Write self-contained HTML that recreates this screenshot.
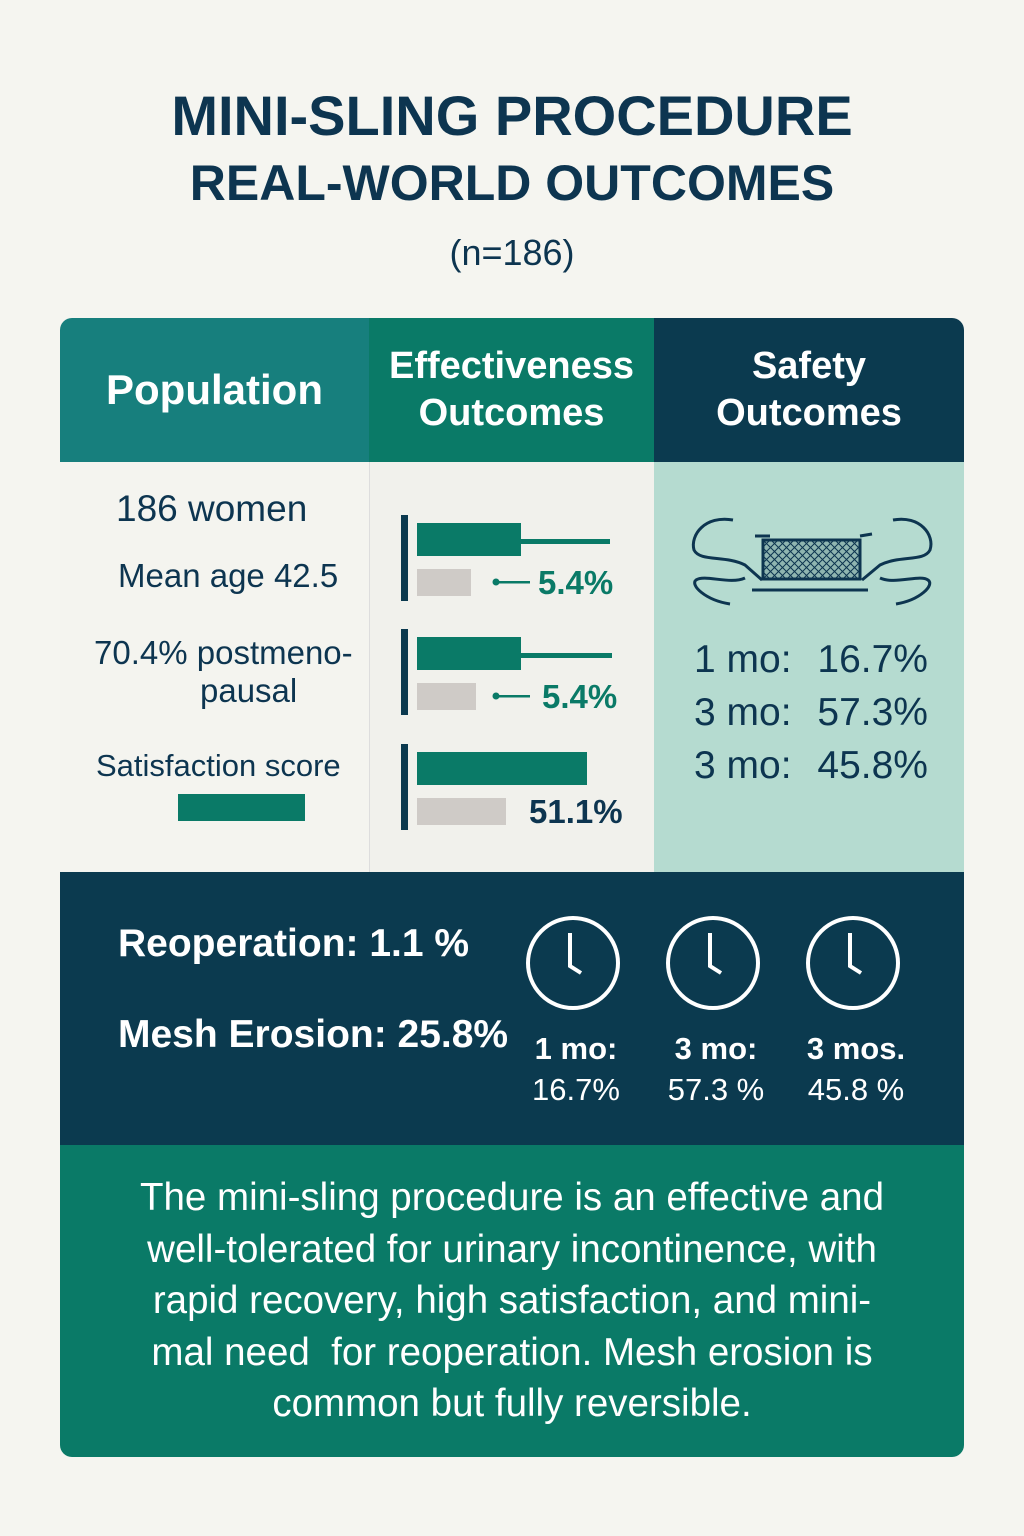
<!DOCTYPE html>
<html><head><meta charset="utf-8">
<style>
body{margin:0;width:1024px;height:1536px;background:#f5f5f0;font-family:"Liberation Sans",sans-serif;position:relative;overflow:hidden}
.a{position:absolute;white-space:nowrap}
</style></head><body>
<div class="a" style="left:0;width:1024px;top:86px;text-align:center;font-weight:bold;color:#0d3550;line-height:60px;font-size:56px">MINI-SLING PROCEDURE</div>
<div class="a" style="left:0;width:1024px;top:153px;text-align:center;font-weight:bold;color:#0d3550;line-height:60px;font-size:50px">REAL-WORLD OUTCOMES</div>
<div class="a" style="left:0;width:1024px;top:232px;text-align:center;font-size:36px;color:#0d3550">(n=186)</div>

<div class="a" style="left:60px;top:318px;width:904px;height:1139px;border-radius:12px;overflow:hidden">
 <div class="a" style="left:0;top:0;width:309px;height:144px;background:#177f7d;color:#fff;font-weight:bold;font-size:42px;display:flex;align-items:center;justify-content:center">Population</div>
 <div class="a" style="left:309px;top:0;width:285px;height:144px;background:#0a7a67;color:#fff;font-weight:bold;font-size:38px;display:flex;align-items:center;justify-content:center;text-align:center;line-height:47px">Effectiveness<br>Outcomes</div>
 <div class="a" style="left:594px;top:0;width:310px;height:144px;background:#0b3a4f;color:#fff;font-weight:bold;font-size:38px;display:flex;align-items:center;justify-content:center;text-align:center;line-height:47px">Safety<br>Outcomes</div>
 <div class="a" style="left:0;top:144px;width:309px;height:410px;background:#f4f4ef"></div>
 <div class="a" style="left:309px;top:144px;width:285px;height:410px;background:#f1f1ec;border-left:1px solid #ddd"></div>
 <div class="a" style="left:594px;top:144px;width:310px;height:410px;background:#b5dbd0"></div>
 <div class="a" style="left:0;top:554px;width:904px;height:273px;background:#0b3a4f"></div>
 <div class="a" style="left:0;top:827px;width:904px;height:312px;background:#0a7a67"></div>
</div>

<div class="a" style="left:116px;top:488px;font-size:37px;color:#0d3550">186 women</div>
<div class="a" style="left:118px;top:557px;font-size:33px;color:#0d3550">Mean age 42.5</div>
<div class="a" style="left:94px;top:634px;font-size:33px;color:#0d3550;line-height:38px">70.4% postmeno-<br><span style="padding-left:106px">pausal</span></div>
<div class="a" style="left:96px;top:748px;font-size:31px;color:#0d3550">Satisfaction score</div>
<div class="a" style="left:178px;top:794px;width:127px;height:27px;background:#0a7a67"></div>

<svg class="a" style="left:0;top:0" width="1024" height="1536" id="chart"></svg>

<div class="a" style="left:694px;top:638px;width:234px;font-size:39px;color:#0d3550;display:flex;justify-content:space-between"><span>1 mo:</span><span>16.7%</span></div>
<div class="a" style="left:694px;top:691px;width:234px;font-size:39px;color:#0d3550;display:flex;justify-content:space-between"><span>3 mo:</span><span>57.3%</span></div>
<div class="a" style="left:694px;top:744px;width:234px;font-size:39px;color:#0d3550;display:flex;justify-content:space-between"><span>3 mo:</span><span>45.8%</span></div>

<div class="a" style="left:118px;top:922px;font-size:39px;font-weight:bold;color:#fff">Reoperation: 1.1 %</div>
<div class="a" style="left:118px;top:1013px;font-size:39px;font-weight:bold;color:#fff">Mesh Erosion: 25.8%</div>

<div class="a" style="left:0;width:1024px;top:1172px;text-align:center;font-size:38.5px;color:#fff;line-height:51.5px">The mini-sling procedure is an effective and<br>well-tolerated for urinary incontinence, with<br>rapid recovery, high satisfaction, and mini-<br>mal need &nbsp;for reoperation. Mesh erosion is<br>common but fully reversible.</div>

<script>
const greenValues=[26,26,42.5];
const lineEnds=[48.25,48.75];
const grayValues=[13.5,14.75,22.25];
const valueLabels=["5.4%","5.4%","51.1%"];
const clockLabels=["1 mo:","3 mo:","3 mos."];
const clockValues=["16.7%","57.3 %","45.8 %"];
const NS="http://www.w3.org/2000/svg";
const svg=document.getElementById('chart');
const x=v=>417+v*4;
const rowTop=[523,637,752];
function mk(t,a){const e=document.createElementNS(NS,t);for(const k in a)e.setAttribute(k,a[k]);svg.appendChild(e);return e;}
greenValues.forEach((v,i)=>{
 const y=rowTop[i];
 const ax=mk('rect',{x:401,y:y-8,width:7,height:86,fill:'#0b3a4f'});
 
 
 const g=mk('rect',{x:417,y:y,width:x(v)-417,height:33,fill:'#0a7a67'});
 
 
 if(i<lineEnds.length){
  const l=mk('rect',{x:x(v),y:y+16,width:x(lineEnds[i])-x(v),height:5,fill:'#0a7a67'});
  
  
 }
 const gr=mk('rect',{x:417,y:y+46,width:x(grayValues[i])-417,height:27,fill:'#cfcbc7'});
 
 
 const green=i<2;
 if(green){
  const d=mk('circle',{cx:496,cy:y+59,r:3.5,fill:'#0a7a67'});
  
  
  const ln=mk('rect',{x:496,y:y+58,width:34,height:2.5,fill:'#0a7a67'});
  
  
 }
 const t=mk('text',{x:green?538+i*4:529,y:y+71,'font-size':33,'font-weight':'bold',fill:green?'#0a7a67':'#0d3550','font-family':'Liberation Sans, sans-serif'});
 t.textContent=valueLabels[i];
 
 
});
const ic=mk('g',{stroke:'#0d3550','stroke-width':3,fill:'none'});


ic.innerHTML='<path d="M733 520 C705 515 690 535 694 550 C700 562 725 555 745 565 L762 580"/><path d="M730 604 C705 600 690 585 696 580 C705 574 730 585 745 578"/><path d="M893 520 C920 515 935 535 930 550 C924 562 900 555 880 565 L862 580"/><path d="M896 604 C920 600 935 585 928 580 C920 574 895 585 880 578"/><rect x="763" y="540" width="97" height="39" fill="#8fb5b0"/><path d="M770 536 L755 536 M860 536 L872 534"/><path d="M752 590 L868 590"/>';
let pat='';for(let k=-40;k<100;k+=8){pat+=`<path d="M${763+k} 540 l39 39 M${763+k} 579 l39 -39" stroke-width="1"/>`;}
const clip=mk('clipPath',{id:'cp'});clip.innerHTML='<rect x="763" y="540" width="97" height="39"/>';
const mesh=mk('g',{'clip-path':'url(#cp)',stroke:'#0d3550'});mesh.innerHTML=pat;


clockLabels.forEach((lab,i)=>{
 const cx=573+i*140,cy=963;
 const c=mk('g',{});
 
 
 c.innerHTML=`<circle cx="${cx}" cy="${cy}" r="45" stroke="#fff" stroke-width="4" fill="none"/><path d="M${cx-3} ${cy-30} L${cx-3} ${cy+3} L${cx+8} ${cy+10}" stroke="#fff" stroke-width="4" fill="none"/>`;
 const t1=mk('text',{x:cx+3,y:1059,'text-anchor':'middle','font-size':31,'font-weight':'bold',fill:'#fff','font-family':'Liberation Sans, sans-serif'});
 t1.textContent=lab;
 
 
 const t2=mk('text',{x:cx+3,y:1100,'text-anchor':'middle','font-size':31,fill:'#fff','font-family':'Liberation Sans, sans-serif'});
 t2.textContent=clockValues[i];
 
 
});
</script>
</body></html>
